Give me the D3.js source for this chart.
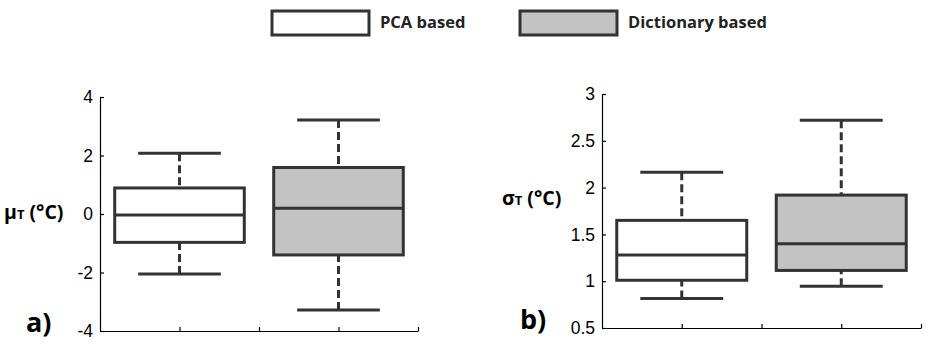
<!DOCTYPE html>
<html>
<head>
<meta charset="utf-8">
<script src="https://cdn.jsdelivr.net/npm/d3@7"></script>
<style>
  body { margin: 0; background: #fff; }
  svg { display: block; }
  .tick text { font-family: "Liberation Sans", Arial, sans-serif; font-size: 17.5px; fill: #000; }
</style>
</head>
<body>
<div id="chart"></div>
<script>
// box plot stats
var groups = ["PCA based", "Dictionary based"];
var groupFill = ["#ffffff", "#c3c3c3"];

var muLow = [-2.05, -3.28];
var muQ1 = [-0.97, -1.40];
var muMed = [-0.03, 0.20];
var muQ3 = [0.89, 1.59];
var muHigh = [2.08, 3.21];
var muTicks = [-4, -2, 0, 2, 4];

var sdLow = [0.815, 0.945];
var sdQ1 = [1.01, 1.115];
var sdMed = [1.28, 1.40];
var sdQ3 = [1.65, 1.92];
var sdHigh = [2.165, 2.72];
var sdTicks = [0.5, 1, 1.5, 2, 2.5, 3];

var ink = "#333";

var svg = d3.select("#chart").append("svg")
  .attr("width", 940)
  .attr("height", 344);

function panel(opts) {
  var x = d3.scaleLinear().domain([0.5, 2.5]).range(opts.xr);
  var y = d3.scaleLinear().domain(opts.yd).range(opts.yr);
  var g = svg.append("g");

  g.append("g")
    .attr("transform", "translate(" + opts.xr[0] + ",0)")
    .call(d3.axisLeft(y).tickValues(opts.ticks).tickSizeInner(-4).tickSizeOuter(0).tickPadding(7)
      .tickFormat(function(d) { return String(d); }));
  g.append("g")
    .attr("transform", "translate(0," + opts.yr[0] + ")")
    .call(d3.axisBottom(x).tickValues([1, 1.5, 2, 2.5]).tickSizeInner(-4).tickSizeOuter(0).tickFormat(""));
  g.selectAll(".domain").attr("stroke", "#000").attr("stroke-width", 1.2);
  g.selectAll(".tick line").attr("stroke", "#000").attr("stroke-width", 1.2);

  var data = groups.map(function(name, i) {
    return { pos: i + 1, low: opts.low[i], q1: opts.q1[i], med: opts.med[i], q3: opts.q3[i], high: opts.high[i], fill: groupFill[i] };
  });
  var boxW = 0.815, capW = 0.52;

  var b = g.selectAll(".box").data(data).enter().append("g").attr("class", "box");

  // whiskers (dashed)
  b.append("line")
    .attr("x1", function(d) { return x(d.pos); }).attr("x2", function(d) { return x(d.pos); })
    .attr("y1", function(d) { return y(d.high); }).attr("y2", function(d) { return y(d.q3); })
    .attr("stroke", ink).attr("stroke-width", 3).attr("stroke-dasharray", "8,4");
  b.append("line")
    .attr("x1", function(d) { return x(d.pos); }).attr("x2", function(d) { return x(d.pos); })
    .attr("y1", function(d) { return y(d.low); }).attr("y2", function(d) { return y(d.q1); })
    .attr("stroke", ink).attr("stroke-width", 3).attr("stroke-dasharray", "8,4");
  // caps
  ["low", "high"].forEach(function(k) {
    b.append("line")
      .attr("x1", function(d) { return x(d.pos - capW / 2); }).attr("x2", function(d) { return x(d.pos + capW / 2); })
      .attr("y1", function(d) { return y(d[k]); }).attr("y2", function(d) { return y(d[k]); })
      .attr("stroke", ink).attr("stroke-width", 3);
  });
  // box
  b.append("rect")
    .attr("x", function(d) { return x(d.pos - boxW / 2); })
    .attr("width", function(d) { return x(d.pos + boxW / 2) - x(d.pos - boxW / 2); })
    .attr("y", function(d) { return y(d.q3); })
    .attr("height", function(d) { return y(d.q1) - y(d.q3); })
    .attr("fill", function(d) { return d.fill; })
    .attr("stroke", ink).attr("stroke-width", 3);
  // median
  b.append("line")
    .attr("x1", function(d) { return x(d.pos - boxW / 2); }).attr("x2", function(d) { return x(d.pos + boxW / 2); })
    .attr("y1", function(d) { return y(d.med); }).attr("y2", function(d) { return y(d.med); })
    .attr("stroke", ink).attr("stroke-width", 3);

  // y label
  var lab = g.append("text")
    .attr("x", opts.labX).attr("y", opts.labY)
    .attr("font-family", "'Open Sans', 'Noto Sans', sans-serif")
    .attr("font-weight", "bold").attr("font-size", 19.5).attr("fill", "#000");
  lab.append("tspan").text(opts.sym);
  lab.append("tspan").attr("font-size", 13).text("T");
  lab.append("tspan").text(" (°C)");

  g.append("text")
    .attr("x", opts.tagX).attr("y", opts.tagY)
    .attr("font-family", "'Open Sans', 'Noto Sans', sans-serif")
    .attr("font-weight", "bold").attr("font-size", 27).attr("fill", "#000")
    .text(opts.tag);
}

panel({ xr: [100, 418], yr: [331, 97], yd: [-4, 4], ticks: muTicks,
  low: muLow, q1: muQ1, med: muMed, q3: muQ3, high: muHigh,
  sym: "μ", labX: 4, labY: 219, tag: "a)", tagX: 26, tagY: 332 });

panel({ xr: [602, 921], yr: [328, 94], yd: [0.5, 3], ticks: sdTicks,
  low: sdLow, q1: sdQ1, med: sdMed, q3: sdQ3, high: sdHigh,
  sym: "σ", labX: 502, labY: 205, tag: "b)", tagX: 520, tagY: 329 });

// legend
var legX = [272, 520];
var leg = svg.selectAll(".leg").data(groups).enter().append("g").attr("class", "leg");
leg.append("rect")
  .attr("x", function(d, i) { return legX[i]; }).attr("y", 11)
  .attr("width", 97).attr("height", 24)
  .attr("fill", function(d, i) { return groupFill[i]; })
  .attr("stroke", ink).attr("stroke-width", 3);
leg.append("text")
  .attr("x", function(d, i) { return legX[i] + 108; }).attr("y", 28)
  .attr("font-family", "'Open Sans', 'Noto Sans', sans-serif")
  .attr("font-weight", "bold").attr("font-size", 16.5).attr("fill", "#222")
  .text(function(d) { return d; });
</script>
</body>
</html>
